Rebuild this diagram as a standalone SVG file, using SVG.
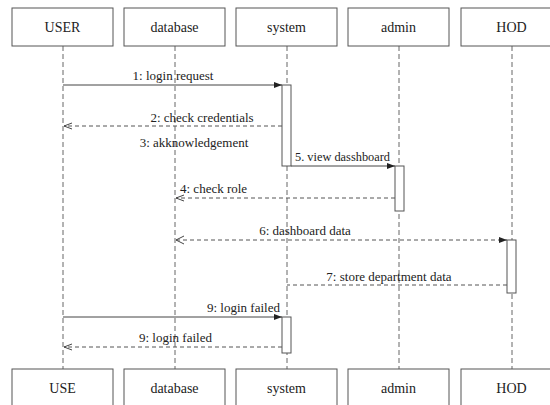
<svg xmlns="http://www.w3.org/2000/svg" width="550" height="405" viewBox="0 0 550 405">
<style>
.box{fill:#fff;stroke:#555;stroke-width:1}
text{font-family:'Liberation Serif','Times New Roman','DejaVu Serif',serif}
.lbl{font-size:14px;fill:#222;text-anchor:middle}
.msg{font-size:13px;fill:#222}
.life{stroke:#666;stroke-width:1;stroke-dasharray:5 3;fill:none}
.act{fill:#fff;stroke:#555;stroke-width:1}
.sol{stroke:#444;stroke-width:1;fill:none}
.dsh{stroke:#555;stroke-width:1;stroke-dasharray:4 3;fill:none}
</style>
<defs>
<marker id="fill" viewBox="0 0 8 8" refX="8" refY="4" markerWidth="8" markerHeight="8" markerUnits="userSpaceOnUse" orient="auto">
<path d="M0,1 L8,4 L0,7 Z" fill="#222"/>
</marker>
<marker id="open" viewBox="0 0 8 8" refX="8" refY="4" markerWidth="8" markerHeight="8" markerUnits="userSpaceOnUse" orient="auto">
<path d="M0,1 L8,4 L0,7" fill="none" stroke="#444" stroke-width="1"/>
</marker>
</defs>
<rect width="550" height="405" fill="#fff"/>
<g id="lifelines">
<line class="life" x1="63" y1="46" x2="63" y2="369"/>
<line class="life" x1="175" y1="46" x2="175" y2="369"/>
<line class="life" x1="287" y1="46" x2="287" y2="369"/>
<line class="life" x1="399" y1="46" x2="399" y2="369"/>
<line class="life" x1="512" y1="46" x2="512" y2="369"/>
</g>
<g id="USER"><rect class="box" x="12" y="8" width="101" height="38"/><text class="lbl" x="62.5" y="32" font-family="Liberation Serif, serif">USER</text></g>
<g id="database"><rect class="box" x="124" y="8" width="101" height="38"/><text class="lbl" x="174.5" y="32">database</text></g>
<g id="system"><rect class="box" x="236" y="8" width="101" height="38"/><text class="lbl" x="286.5" y="32">system</text></g>
<g id="admin"><rect class="box" x="348" y="8" width="101" height="38"/><text class="lbl" x="398.5" y="32">admin</text></g>
<g id="HOD"><rect class="box" x="461" y="8" width="101" height="38"/><text class="lbl" x="511.5" y="32">HOD</text></g>
<g id="USE-bottom"><rect class="box" x="12" y="369" width="101" height="40"/><text class="lbl" x="62.5" y="393">USE</text></g>
<g id="database-bottom"><rect class="box" x="124" y="369" width="101" height="40"/><text class="lbl" x="174.5" y="393">database</text></g>
<g id="system-bottom"><rect class="box" x="236" y="369" width="101" height="40"/><text class="lbl" x="286.5" y="393">system</text></g>
<g id="admin-bottom"><rect class="box" x="348" y="369" width="101" height="40"/><text class="lbl" x="398.5" y="393">admin</text></g>
<g id="HOD-bottom"><rect class="box" x="461" y="369" width="101" height="40"/><text class="lbl" x="511.5" y="393">HOD</text></g>
<g id="activations">
<rect class="act" x="282" y="85" width="9" height="81"/>
<rect class="act" x="395" y="166" width="9" height="45"/>
<rect class="act" x="507" y="240" width="9" height="53"/>
<rect class="act" x="282" y="317" width="9" height="36"/>
</g>
<g id="connectors">
<line class="sol" x1="63" y1="85" x2="282" y2="85" marker-end="url(#fill)"/>
<line class="dsh" x1="282" y1="126" x2="64" y2="126" marker-end="url(#open)"/>
<line class="sol" x1="291" y1="166" x2="395" y2="166" marker-end="url(#fill)"/>
<line class="dsh" x1="395" y1="198" x2="176" y2="198" marker-end="url(#open)"/>
<line class="dsh" x1="176" y1="240" x2="507" y2="240" marker-end="url(#fill)"/>
<path d="M184,236 L176,240 L184,244" fill="none" stroke="#444" stroke-width="1"/>
<line class="dsh" x1="507" y1="285" x2="287" y2="285"/>
<line class="sol" x1="63" y1="317" x2="282" y2="317" marker-end="url(#fill)"/>
<line class="dsh" x1="282" y1="347" x2="64" y2="347" marker-end="url(#open)"/>
</g>
<g id="labels">
<text class="msg" x="173" y="80" text-anchor="middle">1: login request</text>
<text class="msg" x="202" y="122" text-anchor="middle">2: check credentials</text>
<text class="msg" x="194" y="147" text-anchor="middle">3: akknowledgement</text>
<text class="msg" x="295" y="161" textLength="95" lengthAdjust="spacingAndGlyphs">5. view dasshboard</text>
<text class="msg" x="180" y="193">4: check role</text>
<text class="msg" x="305" y="235" text-anchor="middle">6: dashboard data</text>
<text class="msg" x="389" y="281" text-anchor="middle">7: store department data</text>
<text class="msg" x="207" y="312" textLength="73" lengthAdjust="spacingAndGlyphs">9: login failed</text>
<text class="msg" x="139" y="342" textLength="73" lengthAdjust="spacingAndGlyphs">9: login failed</text>
</g>
</svg>
